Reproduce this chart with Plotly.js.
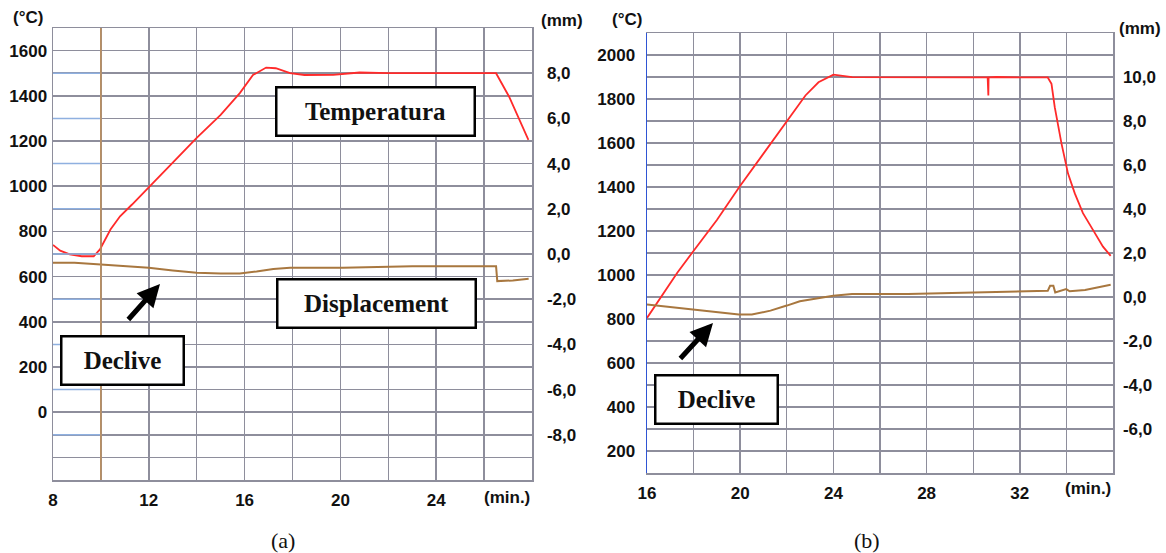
<!DOCTYPE html>
<html>
<head>
<meta charset="utf-8">
<script src="https://cdn.plot.ly/plotly-3.0.1.min.js"></script>
<style>html,body{margin:0;padding:0;background:#fff}#chart{width:1166px;height:553px}</style>
</head>
<body>
<div id="chart"></div>
<script>
// ---------- Panel (a) data ----------
const tempA_min = [8, 8.3, 8.7, 9.2, 9.7, 9.96, 10.4, 10.8, 11.3, 12, 13, 14, 15, 15.8, 16.35, 16.9, 17.3, 17.9, 18.5, 19.7, 20.8, 22, 23, 24, 25, 26, 26.5, 27.04, 27.46, 27.85];
const tempA_C   = [740, 715, 698, 690, 690, 720, 808, 867, 919, 994, 1104, 1214, 1316, 1412, 1492, 1525, 1522, 1500, 1492, 1493, 1503, 1500, 1500, 1500, 1500, 1500, 1500, 1397, 1294, 1205];
const dispA_min = [8, 8.9, 10, 11, 12, 13, 14, 15, 15.8, 16.5, 17.2, 17.9, 20.1, 23, 26.5, 26.55, 27.2, 27.86];
const dispA_mm  = [-0.39, -0.39, -0.46, -0.54, -0.61, -0.73, -0.83, -0.86, -0.86, -0.77, -0.66, -0.61, -0.61, -0.54, -0.54, -1.20, -1.17, -1.10];

// ---------- Panel (b) data ----------
const tempB_min = [16, 17.3, 17.93, 19, 19.97, 21, 22, 22.8, 23.36, 24, 24.8, 26, 28, 30, 30.62, 30.63, 30.65, 30.66, 31, 32, 33.2, 33.36, 33.5, 33.79, 34.07, 34.36, 34.71, 35.14, 35.57, 35.9];
const tempB_C   = [805, 1010, 1100, 1250, 1401, 1550, 1698, 1816, 1876, 1911, 1899, 1898, 1898, 1898, 1898, 1816, 1816, 1898, 1900, 1898, 1898, 1869, 1763, 1597, 1461, 1371, 1281, 1205, 1129, 1087];
const dispB_min = [16, 17.96, 19.94, 20.5, 21.3, 22, 22.56, 23.99, 24.8, 27.2, 29.86, 32.73, 33.2, 33.3, 33.44, 33.52, 33.83, 33.99, 34.14, 34.8, 35.9];
const dispB_mm  = [-0.34, -0.57, -0.80, -0.80, -0.62, -0.39, -0.19, 0.06, 0.14, 0.14, 0.21, 0.26, 0.28, 0.51, 0.51, 0.21, 0.30, 0.36, 0.26, 0.32, 0.56];

// ---------- Tick labels ----------
const xTicksA = [8, 12, 16, 20, 24];
const yTicksA_C = [0, 200, 400, 600, 800, 1000, 1200, 1400, 1600];
const yTicksA_mm = [-8, -6, -4, -2, 0, 2, 4, 6, 8];
const xTicksB = [16, 20, 24, 28, 32];
const yTicksB_C = [200, 400, 600, 800, 1000, 1200, 1400, 1600, 1800, 2000];
const yTicksB_mm = [-6, -4, -2, 0, 2, 4, 6, 8, 10];
const mmLabel = v => v.toFixed(1).replace('.', ',');

const W = 1166, H = 553;
const px = v => v / W, py = v => 1 - v / H;

const RED = '#ff2a2a', BROWN = '#a8773f', GRID = '#8e8e9c';
const tickFont = {family: 'Liberation Sans', size: 17, color: '#111', weight: 'bold'};
const serif = {family: 'Liberation Serif', size: 25, color: '#111', weight: 'bold'};

const traces = [
  {x: tempA_min, y: tempA_C, xaxis: 'x', yaxis: 'y', mode: 'lines', line: {color: RED, width: 1.8}, hoverinfo: 'skip'},
  {x: dispA_min, y: dispA_mm, xaxis: 'x', yaxis: 'y2', mode: 'lines', line: {color: BROWN, width: 2}, hoverinfo: 'skip'},
  {x: tempB_min, y: tempB_C, xaxis: 'x2', yaxis: 'y3', mode: 'lines', line: {color: RED, width: 1.8}, hoverinfo: 'skip'},
  {x: dispB_min, y: dispB_mm, xaxis: 'x2', yaxis: 'y4', mode: 'lines', line: {color: BROWN, width: 2}, hoverinfo: 'skip'}
];

function xAxis(domain, range, ticks, t0, anchor) {
  return {domain, range, anchor, tickmode: 'array', tickvals: ticks, ticktext: ticks.map(String),
    tickfont: tickFont, ticks: '', ticklabelstandoff: 4, showgrid: true, gridcolor: GRID, gridwidth: 1.5,
    minor: {tick0: t0, dtick: 2, showgrid: true, gridcolor: GRID, gridwidth: 1.3, ticks: ''},
    showline: true, linecolor: GRID, linewidth: 1.5, mirror: true, zeroline: false, fixedrange: true};
}
function yLeft(domain, range, ticks, anchor, lineColor, standoff) {
  return {domain, range, anchor, tickmode: 'array', tickvals: ticks, ticktext: ticks.map(String),
    tickfont: tickFont, ticks: '', ticklabelstandoff: standoff, showgrid: true, gridcolor: GRID, gridwidth: 1.5,
    minor: {tick0: 0, dtick: 100, showgrid: true, gridcolor: GRID, gridwidth: 1.5, ticks: ''},
    showline: true, linecolor: lineColor, linewidth: 1.5, mirror: false, zeroline: false, fixedrange: true};
}
function yRight(range, ticks, anchor, overlay, standoff) {
  return {range, anchor, overlaying: overlay, side: 'right', tickmode: 'array', tickvals: ticks,
    ticktext: ticks.map(mmLabel), tickfont: tickFont, ticks: '', ticklabelstandoff: standoff,
    showgrid: false, zeroline: false, showline: true, linecolor: GRID, linewidth: 1.5, fixedrange: true};
}

const shapes = [];
// light-blue segments in the first column of panel (a)
yTicksA_mm.forEach(v => {
  shapes.push({type: 'line', xref: 'x', yref: 'y2', x0: xTicksA[0], x1: xTicksA[0] + 2, y0: v, y1: v,
    line: {color: '#8fb0e0', width: 1.5}, layer: 'above'});
});
// brown vertical line at 10 min in panel (a)
shapes.push({type: 'line', xref: 'x', yref: 'paper', x0: 10, x1: 10, y0: py(480), y1: py(28),
  line: {color: '#c0905a', width: 1.5}});

function box(text, cx, cy, w, h) {
  return {xref: 'paper', yref: 'paper', x: px(cx), y: py(cy), xanchor: 'center', yanchor: 'middle',
    text: text, showarrow: false, font: serif, bgcolor: '#ffffff', bordercolor: '#000', borderwidth: 2.5,
    borderpad: 0, width: w, height: h};
}
function arrow(hx, hy, tx, ty) {
  return {xref: 'paper', yref: 'paper', x: px(hx), y: py(hy), ax: tx - hx, ay: ty - hy, text: '',
    showarrow: true, arrowhead: 2, arrowsize: 0.9, arrowwidth: 5, arrowcolor: '#000'};
}
const lbl = (t, x, y, anchor) => ({xref: 'paper', yref: 'paper', x: px(x), y: py(y), xanchor: anchor || 'center',
  yanchor: 'middle', text: t, showarrow: false, font: tickFont});

const annotations = [
  box('Temperatura', 375, 111, 196, 46),
  box('Displacement', 376, 303, 196, 46),
  box('Declive', 122, 360, 120, 46),
  arrow(160, 284, 127, 321),
  box('Declive', 716, 399, 120, 46),
  arrow(713, 323, 679, 360),
  lbl('(°C)', 28, 18), lbl('(mm)', 562, 20),
  lbl('(°C)', 627, 19), lbl('(mm)', 1140, 28),
  {xref: 'x', yref: 'paper', x: 28, y: py(498), xanchor: 'right', yanchor: 'middle', text: '(min.)', showarrow: false, font: tickFont},
  {xref: 'x2', yref: 'paper', x: 36, y: py(488), xanchor: 'right', yanchor: 'middle', text: '(min.)', showarrow: false, font: tickFont},
  {xref: 'paper', yref: 'paper', x: px(283), y: py(540), xanchor: 'center', yanchor: 'middle', text: '(a)', showarrow: false,
    font: {family: 'Liberation Serif', size: 22, color: '#111'}},
  {xref: 'paper', yref: 'paper', x: px(867), y: py(540), xanchor: 'center', yanchor: 'middle', text: '(b)', showarrow: false,
    font: {family: 'Liberation Serif', size: 22, color: '#111'}}
];

const layout = {
  width: W, height: H, margin: {l: 0, r: 0, t: 0, b: 0}, showlegend: false,
  paper_bgcolor: '#fff', plot_bgcolor: '#fff',
  xaxis: xAxis([px(53), px(532)], [8, 28], xTicksA, 8, 'y'),
  yaxis: yLeft([py(480), py(28)], [-300, 1700], yTicksA_C, 'x', GRID, 1),
  yaxis2: yRight([-10, 10], yTicksA_mm, 'x', 'y', 10),
  xaxis2: xAxis([px(647), px(1113)], [16, 36], xTicksB, 16, 'y3'),
  yaxis3: yLeft([py(473), py(33)], [100, 2100], yTicksB_C, 'x2', '#2f55d4', 7),
  yaxis4: yRight([-8, 12], yTicksB_mm, 'x2', 'y3', 5),
  shapes, annotations
};

Plotly.newPlot('chart', traces, layout, {staticPlot: true, displayModeBar: false});
</script>
</body>
</html>
